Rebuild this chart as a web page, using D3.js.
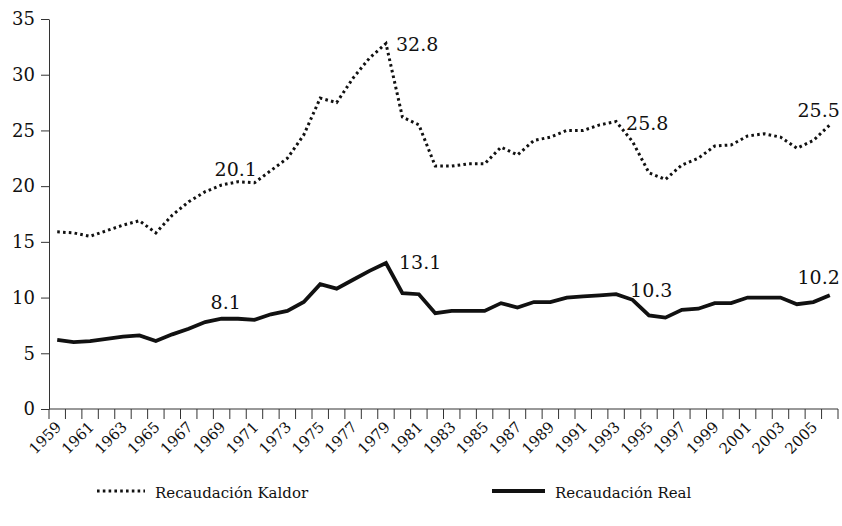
<!DOCTYPE html>
<html>
<head>
<meta charset="utf-8">
<script src="https://cdn.jsdelivr.net/npm/d3@7"></script>
<style>
  body { margin: 0; background: #fff; }
</style>
</head>
<body>
<div id="chart"></div>
<script>
// years on the x axis (one point per year)
const years = d3.range(1959, 2007);

// tick labels, every other year
const tickLabels = [1959, 1961, 1963, 1965, 1967, 1969, 1971, 1973, 1975, 1977, 1979,
  1981, 1983, 1985, 1987, 1989, 1991, 1993, 1995, 1997, 1999, 2001, 2003, 2005];

// Recaudación Kaldor (dotted)
const kaldor = [15.9, 15.8, 15.5, 16.0, 16.5, 16.9, 15.8, 17.4, 18.6, 19.5,
  20.1, 20.4, 20.3, 21.4, 22.5, 24.6, 27.9, 27.5, 29.7, 31.5,
  32.8, 26.2, 25.5, 21.8, 21.8, 22.0, 22.0, 23.5, 22.8, 24.1,
  24.4, 25.0, 25.0, 25.5, 25.8, 24.0, 21.2, 20.6, 21.9, 22.5,
  23.6, 23.7, 24.5, 24.7, 24.4, 23.4, 24.1, 25.5];

// Recaudación Real (solid)
const real = [6.2, 6.0, 6.1, 6.3, 6.5, 6.6, 6.1, 6.7, 7.2, 7.8,
  8.1, 8.1, 8.0, 8.5, 8.8, 9.6, 11.2, 10.8, 11.6, 12.4,
  13.1, 10.4, 10.3, 8.6, 8.8, 8.8, 8.8, 9.5, 9.1, 9.6,
  9.6, 10.0, 10.1, 10.2, 10.3, 9.8, 8.4, 8.2, 8.9, 9.0,
  9.5, 9.5, 10.0, 10.0, 10.0, 9.4, 9.6, 10.2];

// annotated points: series, year, text, offset
const notes = [
  { s: "k", year: 1969, text: "20.1", dx: -7, dy: -9, anchor: "start" },
  { s: "k", year: 1979, text: "32.8", dx: 10, dy: 7, anchor: "start" },
  { s: "k", year: 1993, text: "25.8", dx: 10, dy: 8, anchor: "start" },
  { s: "k", year: 2006, text: "25.5", dx: 10, dy: -8, anchor: "end" },
  { s: "r", year: 1969, text: "8.1", dx: -11, dy: -10, anchor: "start" },
  { s: "r", year: 1979, text: "13.1", dx: 13, dy: 6, anchor: "start" },
  { s: "r", year: 1993, text: "10.3", dx: 14, dy: 3, anchor: "start" },
  { s: "r", year: 2006, text: "10.2", dx: 10, dy: -11, anchor: "end" },
];

const FONT = "'DejaVu Serif', serif";

const svg = d3
  .select("#chart")
  .append("svg")
  .attr("width", 842)
  .attr("height", 526)
  .style("font-family", FONT);

const x = d3.scaleBand().domain(years).range([49, 838]);
const y = d3.scaleLinear().domain([0, 35]).range([409, 19]);
const cx = function (yr) {
  return x(yr) + x.bandwidth() / 2;
};

// Y axis
const yAxis = svg
  .append("g")
  .attr("transform", "translate(49,0)")
  .call(d3.axisLeft(y).tickValues([0, 5, 10, 15, 20, 25, 30, 35]).tickSize(8).tickPadding(6).tickSizeOuter(0));
yAxis.attr("font-family", null).attr("font-size", null);
yAxis.selectAll("path, line").attr("stroke", "#333");
yAxis.selectAll("text").attr("fill", "#111").style("font-family", FONT).style("font-size", "18px");

// X axis: line plus ticks on band edges
const xg = svg.append("g");
xg.append("line")
  .attr("x1", x.range()[0])
  .attr("x2", x.range()[1])
  .attr("y1", y(0))
  .attr("y2", y(0))
  .attr("stroke", "#333");
xg.selectAll(".tk")
  .data(years.concat(["end"]))
  .join("line")
  .attr("x1", function (d) {
    return d === "end" ? x.range()[1] : x(d);
  })
  .attr("x2", function (d) {
    return d === "end" ? x.range()[1] : x(d);
  })
  .attr("y1", y(0))
  .attr("y2", y(0) + 10)
  .attr("stroke", "#333");
xg.selectAll(".lbl")
  .data(tickLabels)
  .join("text")
  .attr("transform", function (d) {
    return `translate(${cx(d) + 5},${y(0) + 19}) rotate(-45)`;
  })
  .attr("text-anchor", "end")
  .style("font-family", FONT)
  .style("font-size", "15px")
  .attr("fill", "#111")
  .text(function (d) {
    return d;
  });

// lines
const line = d3
  .line()
  .x(function (d, i) {
    return cx(years[i]);
  })
  .y(function (d) {
    return y(d);
  });

svg.append("path")
  .attr("d", line(kaldor))
  .attr("fill", "none")
  .attr("stroke", "#111")
  .attr("stroke-width", 3)
  .attr("stroke-dasharray", "2.6,3.2");

svg.append("path")
  .attr("d", line(real))
  .attr("fill", "none")
  .attr("stroke", "#111")
  .attr("stroke-width", 3.8)
  .attr("stroke-linejoin", "miter");

// value labels
svg.selectAll(".note")
  .data(notes)
  .join("text")
  .attr("x", function (d) {
    return cx(d.year) + d.dx;
  })
  .attr("y", function (d) {
    const v = (d.s === "k" ? kaldor : real)[years.indexOf(d.year)];
    return y(v) + d.dy;
  })
  .attr("text-anchor", function (d) {
    return d.anchor;
  })
  .style("font-family", FONT)
  .style("font-size", "19px")
  .attr("fill", "#111")
  .text(function (d) {
    return d.text;
  });

// legend
const legend = [
  { name: "Recaudación Kaldor", x: 97, w: 48, dash: "2.6,3.2", sw: 3 },
  { name: "Recaudación Real", x: 492, w: 53, dash: null, sw: 4 },
];
const lg = svg.selectAll(".lg").data(legend).join("g");
lg.append("line")
  .attr("x1", function (d) {
    return d.x;
  })
  .attr("x2", function (d) {
    return d.x + d.w;
  })
  .attr("y1", 491)
  .attr("y2", 491)
  .attr("stroke", "#111")
  .attr("stroke-width", function (d) {
    return d.sw;
  })
  .attr("stroke-dasharray", function (d) {
    return d.dash;
  });
lg.append("text")
  .attr("x", function (d) {
    return d.x + d.w + 10;
  })
  .attr("y", 498)
  .style("font-family", FONT)
  .style("font-size", "15px")
  .attr("fill", "#111")
  .text(function (d) {
    return d.name;
  });
</script>
</body>
</html>
